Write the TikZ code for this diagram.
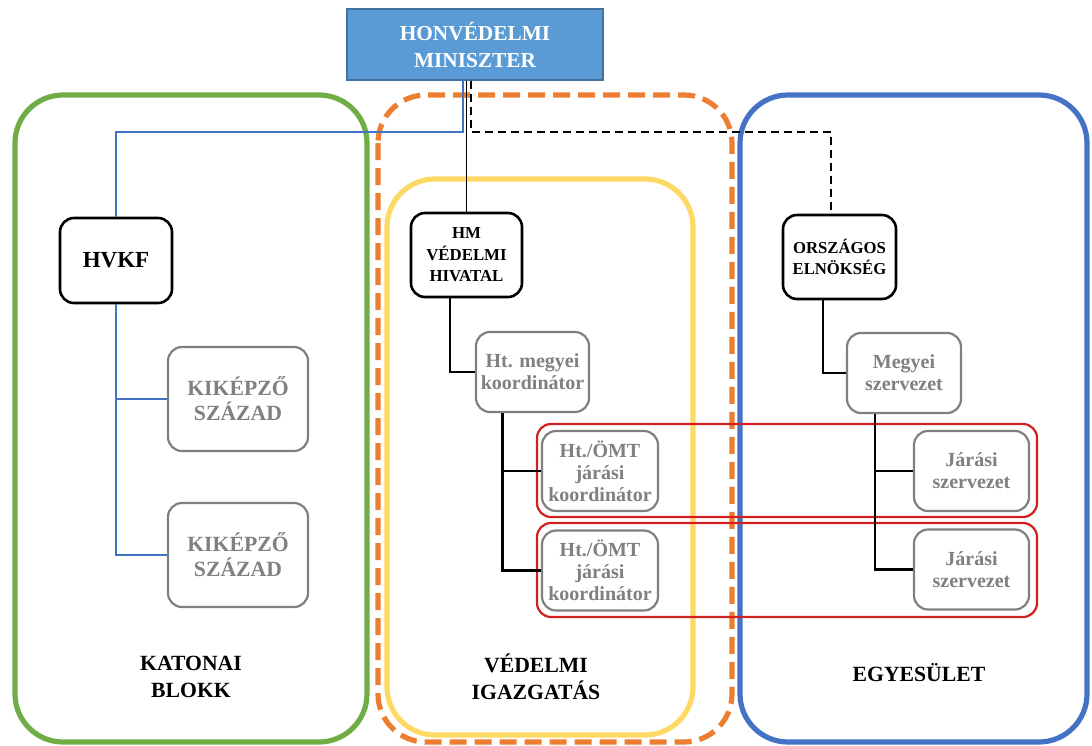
\documentclass[tikz,border=0pt]{standalone}
\usepackage{fontspec}
\setmainfont{Liberation Serif}
\usetikzlibrary{calc}
\definecolor{minfill}{HTML}{5B9BD5}
\definecolor{minborder}{HTML}{41719C}
\definecolor{cgreen}{HTML}{70AD47}
\definecolor{corange}{HTML}{ED7D31}
\definecolor{cyellow}{HTML}{FFD966}
\definecolor{cblue}{HTML}{4472C4}
\definecolor{cred}{HTML}{D02020}
\definecolor{cgray}{HTML}{808080}
\begin{document}
\begin{tikzpicture}[x=1pt,y=-1pt,
  mainbox/.style={draw=black, line width=2.6pt, rounded corners=14pt, fill=white, align=center, inner sep=0pt},
  subbox/.style={draw=cgray, line width=2.2pt, rounded corners=14pt, fill=white, align=center, inner sep=0pt, text=cgray,
    font=\bfseries\fontsize{20}{22}\selectfont, minimum width=115pt, minimum height=80pt},
  kikbox/.style={subbox, font=\bfseries\fontsize{21.7}{25}\selectfont, minimum width=140pt, minimum height=104pt},
  group/.style={line width=5.2pt, rounded corners=48pt},
  redgroup/.style={draw=cred, line width=2.2pt, rounded corners=14pt},
  conn/.style={black, line width=2.6pt},
  thinconn/.style={black, line width=1.6pt},
  bconn/.style={cblue, line width=1.6pt},
  dconn/.style={black, line width=2pt, dash pattern=on 8pt off 5pt},
  label/.style={align=center, inner sep=0pt, font=\bfseries\fontsize{21.7}{27}\selectfont}
]
\useasboundingbox (0,0) rectangle (1092,745);
% group frames
\draw[group, cgreen] (15,95) rectangle (367,742);
\draw[group, cyellow] (387,179) rectangle (693,735);
\draw[group, corange, dash pattern=on 17pt off 8pt] (378,95) rectangle (732,742);
\draw[group, cblue] (740,95) rectangle (1087,742);
\draw[redgroup] (537,424) rectangle (1037,517);
\draw[redgroup] (537,523) rectangle (1037,617);

% nodes
\node[draw=minborder, fill=minfill, line width=1.4pt, minimum width=256pt, minimum height=71pt, inner sep=0pt,
  align=center, text=white, font=\bfseries\fontsize{21.3}{27}\selectfont] (min) at (475,44.5) {HONVÉDELMI\\MINISZTER};
\node[mainbox, minimum width=112pt, minimum height=85pt, font=\bfseries\fontsize{23}{27}\selectfont] (hvkf) at (116,260.5) {HVKF};
\node[kikbox] (kik1) at (238,399) {KIKÉPZŐ\\SZÁZAD};
\node[kikbox] (kik2) at (238,555) {KIKÉPZŐ\\SZÁZAD};
\node[mainbox, minimum width=111pt, minimum height=84pt, font=\bfseries\fontsize{16.8}{21.5}\selectfont] (hm) at (466.5,255) {HM\\VÉDELMI\\HIVATAL};
\node[subbox, minimum width=113pt] (megy1) at (532.5,372) {Ht. megyei\\koordinátor};
\node[subbox, minimum width=116pt] (omt1) at (600,471) {Ht./ÖMT\\járási\\koordinátor};
\node[subbox, minimum width=116pt] (omt2) at (600,570.5) {Ht./ÖMT\\járási\\koordinátor};
\node[mainbox, minimum width=113pt, minimum height=84pt, font=\bfseries\fontsize{16.7}{21.7}\selectfont] (orsz) at (839.5,257) {ORSZÁGOS\\ELNÖKSÉG};
\node[subbox, minimum width=114pt] (megy2) at (904,373) {Megyei\\szervezet};
\node[subbox] (jar1) at (971.5,471) {Járási\\szervezet};
\node[subbox] (jar2) at (971.5,569.5) {Járási\\szervezet};

\node[label] (lkat) at (191,676.5) {KATONAI\\BLOKK};
\node[label] (lved) at (536,676.5) {VÉDELMI\\IGAZGATÁS};
\node[label] (legy) at (919,673) {EGYESÜLET};

% connectors
\coordinate (bj) at (463,132);
\draw[bconn] (min.south -| bj) -- (bj) -| (hvkf.north);
\coordinate (bt) at (116,0);
\draw[bconn] (hvkf.south) |- (kik2.west);
\draw[bconn] (bt |- kik1.west) -- (kik1.west);

\draw[thinconn] (min.south -| hm.north) -- (hm.north);

\coordinate (dv) at (471,132);
\draw[dconn] (min.south -| dv) -- (dv) -| ([xshift=-8.5pt]orsz.north);

\draw[conn] ([xshift=-16.5pt]hm.south) |- (megy1.west);
\coordinate (t1) at ([xshift=-30pt]megy1.south);
\draw[conn] (t1) |- (omt2.west);
\draw[conn] (t1 |- omt1.west) -- (omt1.west);

\draw[conn] ([xshift=-16.5pt]orsz.south) |- (megy2.west);
\coordinate (t2) at ([xshift=-29pt]megy2.south);
\draw[conn] (t2) |- (jar2.west);
\draw[conn] (t2 |- jar1.west) -- (jar1.west);
\end{tikzpicture}
\end{document}
